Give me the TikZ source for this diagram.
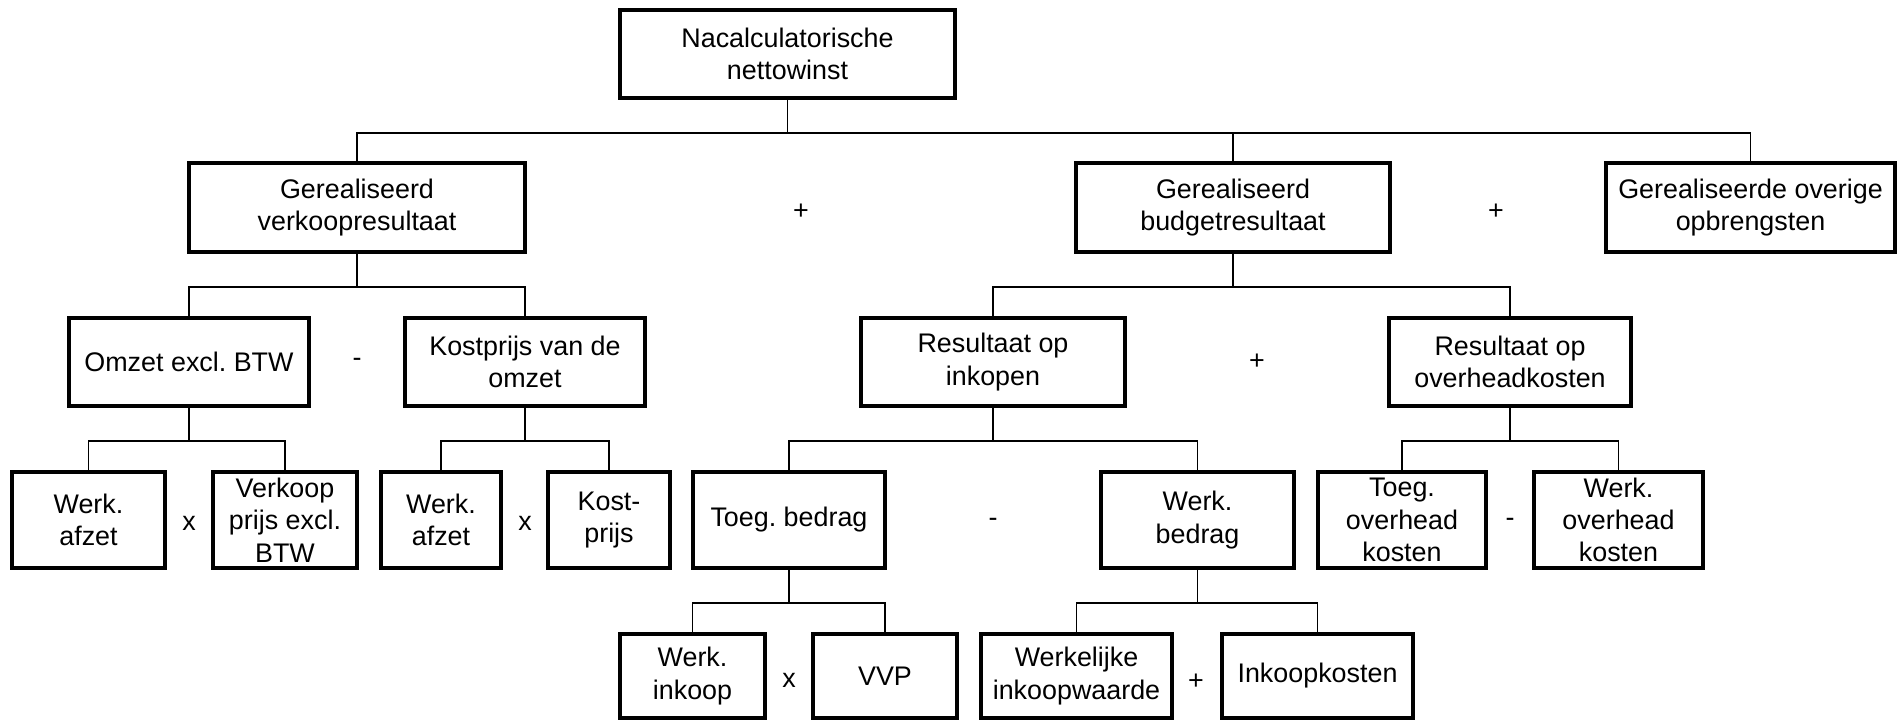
\documentclass[tikz,border=0pt]{standalone}
\usepackage{fontspec}
\setmainfont{Liberation Sans}
\frenchspacing
\begin{document}
\begin{tikzpicture}[
    font=\fontsize{15.3}{18.4}\selectfont,
    box/.style={draw, line width=2.2pt, align=center, inner sep=1pt},
    conn/.style={line width=0.8pt},
    op/.style={inner sep=1pt}
  ]
    \useasboundingbox (0,0) rectangle (37.96,14.44);

    % Top box
    \node[box, minimum width=6.7cm, minimum height=1.76cm] (top) at (15.75,13.36)
        {Nacalculatorische\\nettowinst};

    % Level 1
    \node[box, minimum width=6.72cm, minimum height=1.78cm] (verkres) at (7.14,10.29)
        {Gerealiseerd\\verkoopresultaat};
    \node[box, minimum width=6.28cm, minimum height=1.78cm] (budgetres) at (24.66,10.29)
        {Gerealiseerd\\budgetresultaat};
    \node[box, minimum width=5.78cm, minimum height=1.78cm] (overige) at (35.01,10.29)
        {Gerealiseerde overige\\opbrengsten};
    \node[op] (plusA) at (16.02,10.2) {+};
    \node[op] (plusB) at (29.92,10.2) {+};

    % Level 2
    \node[box, minimum width=4.8cm, minimum height=1.76cm] (omzet) at (3.78,7.2)
        {Omzet excl. BTW};
    \node[box, minimum width=4.8cm, minimum height=1.76cm] (kostprijs) at (10.5,7.2)
        {Kostprijs van de\\omzet};
    \node[box, minimum width=5.28cm, minimum height=1.76cm] (inkopen) at (19.86,7.2)
        {Resultaat op\\inkopen};
    \node[box, minimum width=4.84cm, minimum height=1.76cm] (overhead) at (30.2,7.2)
        {Resultaat op\\overheadkosten};
    \node[op] (minA) at (7.14,7.2) {-};
    \node[op] (plusC) at (25.14,7.2) {+};

    % Level 3
    \node[box, minimum width=3.06cm, minimum height=1.92cm] (wafzetA) at (1.77,4.04)
        {Werk.\\afzet};
    \node[box, minimum width=2.88cm, minimum height=1.92cm] (verkprijs) at (5.7,4.04)
        {Verkoop\\prijs excl.\\BTW};
    \node[box, minimum width=2.4cm, minimum height=1.92cm] (wafzetB) at (8.82,4.04)
        {Werk.\\afzet};
    \node[box, minimum width=2.44cm, minimum height=1.92cm] (kprijs) at (12.18,4.04)
        {Kost-\\prijs};
    \node[box, minimum width=3.84cm, minimum height=1.92cm] (toegbedrag) at (15.78,4.04)
        {Toeg. bedrag};
    \node[box, minimum width=3.86cm, minimum height=1.92cm] (werkbedrag) at (23.95,4.04)
        {Werk.\\bedrag};
    \node[box, minimum width=3.36cm, minimum height=1.92cm] (toegoh) at (28.04,4.04)
        {Toeg.\\overhead\\kosten};
    \node[box, minimum width=3.38cm, minimum height=1.92cm] (werkoh) at (32.37,4.04)
        {Werk.\\overhead\\kosten};
    \node[op] (xA) at (3.78,3.98) {x};
    \node[op] (xB) at (10.5,3.98) {x};
    \node[op] (minB) at (19.86,4.0) {-};
    \node[op] (minC) at (30.2,4.0) {-};

    % Level 4
    \node[box, minimum width=2.9cm, minimum height=1.68cm] (werkinkoop) at (13.85,0.92)
        {Werk.\\inkoop};
    \node[box, minimum width=2.88cm, minimum height=1.68cm] (vvp) at (17.7,0.92)
        {VVP};
    \node[box, minimum width=3.82cm, minimum height=1.68cm] (werkwaarde) at (21.53,0.92)
        {Werkelijke\\inkoopwaarde};
    \node[box, minimum width=3.82cm, minimum height=1.68cm] (inkkosten) at (26.35,0.92)
        {Inkoopkosten};
    \node[op] (xC) at (15.78,0.84) {x};
    \node[op] (plusD) at (23.92,0.8) {+};

    % Tree lines
    \foreach \p/\c in {top/verkres, top/budgetres, top/overige,
                       verkres/omzet, verkres/kostprijs,
                       budgetres/inkopen, budgetres/overhead,
                       omzet/wafzetA, omzet/verkprijs,
                       kostprijs/wafzetB, kostprijs/kprijs,
                       inkopen/toegbedrag, inkopen/werkbedrag,
                       overhead/toegoh, overhead/werkoh,
                       toegbedrag/werkinkoop, toegbedrag/vvp,
                       werkbedrag/werkwaarde, werkbedrag/inkkosten}
        \draw[conn] (\p.south) -- ++(0,-0.66) -| (\c.north);
\end{tikzpicture}
\end{document}
